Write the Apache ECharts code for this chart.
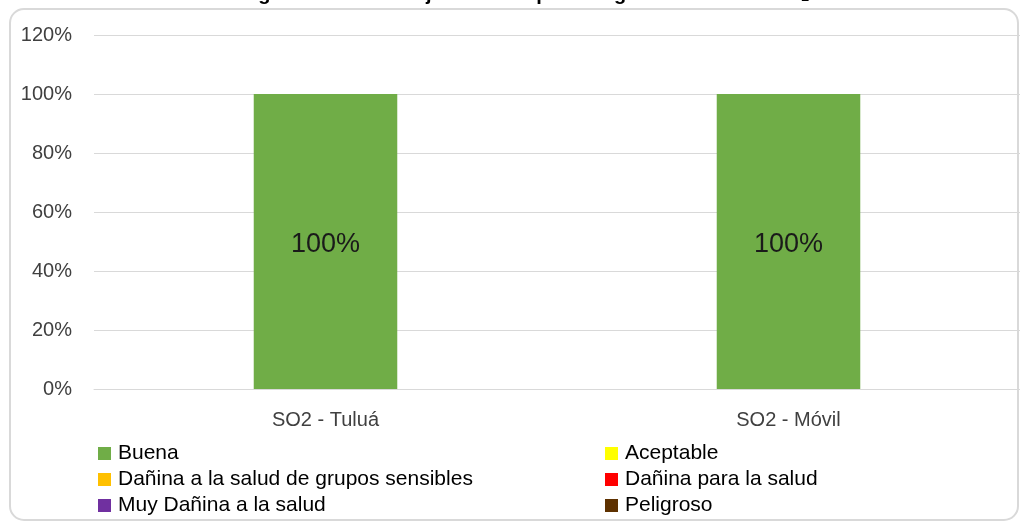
<!DOCTYPE html>
<html>
<head>
<meta charset="utf-8">
<script src="https://cdn.jsdelivr.net/npm/echarts@6/dist/echarts.min.js"></script>
<style>
  html, body { margin: 0; padding: 0; background: #fff; }
  #chart { width: 1020px; height: 525px; }
</style>
</head>
<body>
<div id="chart"></div>
<script>
const categories = ['SO2 - Tuluá', 'SO2 - Móvil'];
const seriesNames = [
  'Buena',
  'Aceptable',
  'Dañina a la salud de grupos sensibles',
  'Dañina para la salud',
  'Muy Dañina a la salud',
  'Peligroso'
];
const seriesColors = ['#70AD47', '#FFFF00', '#FFC000', '#FF0000', '#7030A0', '#5E3100'];
const buena = [100, 100];
const aceptable = [0, 0];
const daninaSensibles = [0, 0];
const daninaSalud = [0, 0];
const muyDanina = [0, 0];
const peligroso = [0, 0];
const seriesValues = [buena, aceptable, daninaSensibles, daninaSalud, muyDanina, peligroso];

const font = 'Liberation Sans, Arial, sans-serif';
const chart = echarts.init(document.getElementById('chart'), null, { renderer: 'canvas' });

const series = seriesNames.map(function (name, i) {
  return {
    name: name,
    type: 'bar',
    stack: 'total',
    barWidth: '31%',
    itemStyle: { color: seriesColors[i] },
    label: {
      show: i === 0,
      position: 'inside',
      offset: [0, 3],
      formatter: '{c}%',
      fontFamily: font,
      fontSize: 27,
      color: '#1a1a1a'
    },
    data: seriesValues[i]
  };
});

const legendBase = {
  orient: 'vertical',
  itemWidth: 13,
  itemHeight: 13,
  itemGap: 5,
  icon: 'rect',
  padding: 0,
  height: 100,
  textStyle: { fontFamily: font, fontSize: 21, color: '#000', padding: [0, 0, 0, 2] },
  top: 443
};

chart.setOption({
  animation: false,
  grid: { left: 94, right: 0, top: 35, bottom: 136 },
  graphic: [
    {
      type: 'rect',
      shape: { x: 10, y: 9, width: 1008, height: 511, r: 14 },
      style: { fill: 'none', stroke: '#d9d9d9', lineWidth: 2 }
    },
    {
      type: 'text',
      x: 525,
      y: -16,
      style: {
        text: 'Figura 15. Porcentaje de datos por categoría del ICA de SO₂',
        font: 'bold 20px ' + font,
        fill: '#000',
        align: 'center'
      }
    }
  ],
  legend: [
    Object.assign({}, legendBase, {
      left: 98,
      data: [seriesNames[0], seriesNames[2], seriesNames[4]]
    }),
    Object.assign({}, legendBase, {
      left: 605,
      data: [seriesNames[1], seriesNames[3], seriesNames[5]]
    })
  ],
  xAxis: {
    type: 'category',
    data: categories,
    axisLine: { lineStyle: { color: '#d9d9d9', width: 1 } },
    axisTick: { show: false },
    axisLabel: { fontFamily: font, fontSize: 20, color: '#404040', margin: 21 }
  },
  yAxis: {
    type: 'value',
    min: 0,
    max: 120,
    interval: 20,
    axisLine: { show: false },
    axisTick: { show: false },
    splitLine: { lineStyle: { color: '#d9d9d9', width: 1 } },
    axisLabel: { fontFamily: font, fontSize: 20, color: '#404040', margin: 22, formatter: '{value}%' }
  },
  series: series
});
</script>
</body>
</html>
